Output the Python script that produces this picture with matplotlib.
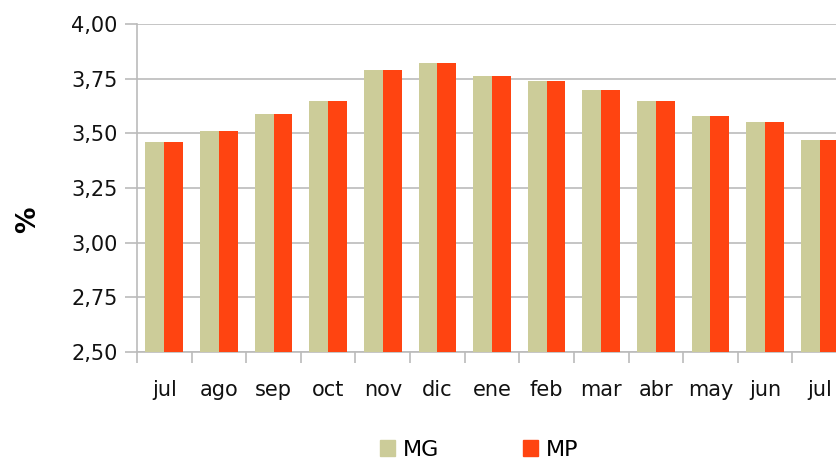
import numpy as np
import matplotlib.pyplot as plt
import matplotlib.patches as mpatches
from matplotlib.ticker import FuncFormatter

months = ["jul", "ago", "sep", "oct", "nov", "dic", "ene",
          "feb", "mar", "abr", "may", "jun", "jul"]
mg = [3.46, 3.51, 3.59, 3.65, 3.79, 3.82, 3.76, 3.74, 3.70, 3.65, 3.58, 3.55, 3.47]
mp = [3.46, 3.51, 3.59, 3.65, 3.79, 3.82, 3.76, 3.74, 3.70, 3.65, 3.58, 3.55, 3.47]
yticks = [2.50, 2.75, 3.00, 3.25, 3.50, 3.75, 4.00]

MG_COLOR = "#CCCC99"
MP_COLOR = "#FF4411"
GRID = "#BBBBBB"

plt.rcParams["font.family"] = ["DejaVu Sans"]

fig = plt.figure(figsize=(8.37, 4.59), dpi=100)
# axes runs past the right edge, as in the original (last bar clipped)
ax = fig.add_axes([137 / 837, 107 / 459, 710 / 837, 328 / 459])

x = np.arange(len(months))
w = 0.345
ax.bar(x - w / 2, mg, width=w, color=MG_COLOR, zorder=3)
ax.bar(x + w / 2, mp, width=w, color=MP_COLOR, zorder=3)

ax.set_xlim(-0.5, len(months) - 0.5)
ax.set_ylim(2.5, 4.0)
ax.set_yticks(yticks)
ax.yaxis.set_major_formatter(FuncFormatter(lambda v, p: f"{v:.2f}".replace(".", ",")))
ax.grid(axis="y", color=GRID, linewidth=1.2, zorder=0)

# labels at centres, ticks at category boundaries
ax.set_xticks(x)
ax.set_xticklabels(months)
ax.set_xticks(np.arange(len(months) + 1) - 0.5, minor=True)
ax.tick_params(axis="x", which="major", length=0, pad=20, labelsize=15, labelcolor="#111111")
ax.tick_params(axis="x", which="minor", length=8, width=1.2, color=GRID, direction="out")
ax.tick_params(axis="y", length=9, width=1.2, color=GRID, pad=5, labelsize=15, labelcolor="#111111")

for s in ["top", "right"]:
    ax.spines[s].set_visible(False)
for s in ["left", "bottom"]:
    ax.spines[s].set_color(GRID)
    ax.spines[s].set_linewidth(1.2)

fig.text(28 / 837, 1 - 220 / 459, "%", rotation=90, fontsize=19, fontweight="bold",
         ha="center", va="center")

handles = [mpatches.Patch(color=MG_COLOR, label="MG"),
           mpatches.Patch(color=MP_COLOR, label="MP")]
fig.legend(handles=handles, loc="center", bbox_to_anchor=(479 / 837, 1 - 450 / 459),
           ncol=2, frameon=False, fontsize=16, handlelength=0.7, handleheight=0.7,
           handletextpad=0.35, columnspacing=3.75)

fig.savefig("out.png", dpi=100)
